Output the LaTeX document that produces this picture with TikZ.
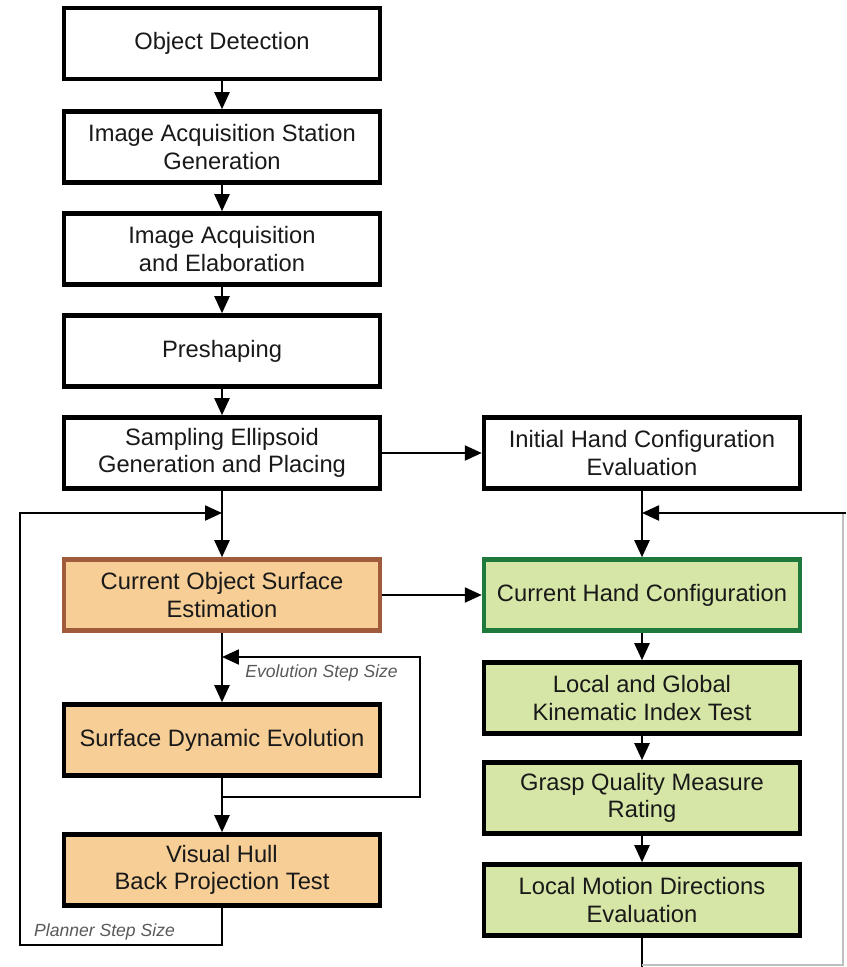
\documentclass[tikz,border=0pt]{standalone}
\usepackage{fontspec}
\setmainfont{Liberation Sans}
\usetikzlibrary{arrows.meta}
\definecolor{surforange}{HTML}{F7CE96}
\definecolor{surfbrown}{HTML}{A05A3C}
\definecolor{handgreen}{HTML}{D6E6A6}
\definecolor{handborder}{HTML}{1E7A3C}
\begin{document}
\begin{tikzpicture}[
    x=0.02cm, y=-0.02cm,
    box/.style={draw, line width=2.6pt, rectangle, align=center, minimum width=6.32cm, minimum height=1.42cm, text=black!90, font=\fontsize{13.5}{15.4}\selectfont},
    surf/.style={box, fill=surforange},
    hand/.style={box, fill=handgreen},
    arr/.style={line width=1.3pt, -{Triangle[length=0.34cm, width=0.3cm]}},
    faint/.style={line width=0.6pt, black!25},
    steplabel/.style={font=\itshape\fontsize{10}{12}\selectfont, text=black!65}
]
    \fill[white] (0,0) rectangle (846,967);
    \useasboundingbox (0,0) rectangle (846,967);

    % Left column, acquisition chain
    \node[box] (det) at (222,43.5) {Object Detection};
    \node[box] (stat) at (222,147) {Image Acquisition Station\\Generation};
    \node[box] (acq) at (222,249) {Image Acquisition\\and Elaboration};
    \node[box] (presh) at (222,351) {Preshaping};
    \node[box] (samp) at (222,453) {Sampling Ellipsoid\\Generation and Placing};

    % Surface estimation loop
    \node[surf, draw=surfbrown] (cose) at (222,595) {Current Object Surface\\Estimation};
    \node[surf] (sde) at (222,740) {Surface Dynamic Evolution};
    \node[surf] (vh) at (222,870) {Visual Hull\\Back Projection Test};

    % Right column, hand configuration
    \node[box] (ihc) at (642,453) {Initial Hand Configuration\\Evaluation};
    \node[hand, draw=handborder] (chc) at (642,595) {Current Hand Configuration};
    \node[hand] (lgk) at (642,698) {Local and Global\\Kinematic Index Test};
    \node[hand] (gqm) at (642,798) {Grasp Quality Measure\\Rating};
    \node[hand] (lmd) at (642,900) {Local Motion Directions\\Evaluation};

    % Feedback entry points
    \coordinate (planin) at (222,513);
    \coordinate (evoin) at (222,657);
    \coordinate (evoout) at (222,797);
    \coordinate (handin) at (642,513);
    \coordinate (handR) at (846,513);
    \coordinate (handB) at (642,967);

    % Straight chains
    \foreach \a/\b in {det/stat, stat/acq, acq/presh, presh/samp, samp/cose, cose/sde, sde/vh, ihc/chc, chc/lgk, lgk/gqm, gqm/lmd}
        \draw[arr] (\a) -- (\b);

    % Cross connections
    \draw[arr] (samp) -- (ihc);
    \draw[arr] (cose) -- (chc);

    % Evolution step loop
    \draw[arr] (evoout) -- ++(198,0) |- (evoin);
    \node[steplabel, anchor=east] (evolbl) at (404,673) {Evolution Step Size};

    % Planner step loop
    \draw[arr] (vh.south) -- ++(0,37) -- ++(-202,0) |- (planin);
    \node[steplabel, anchor=west] (planlbl) at (28,932) {Planner Step Size};

    % Hand loop (cut by the border)
    \draw[line width=1.3pt] (lmd.south) -- (handB);
    \draw[faint] (642,965) -- (843,965) -- (843,513);
    \draw[arr] (handR) -- (handin);

\end{tikzpicture}
\end{document}
